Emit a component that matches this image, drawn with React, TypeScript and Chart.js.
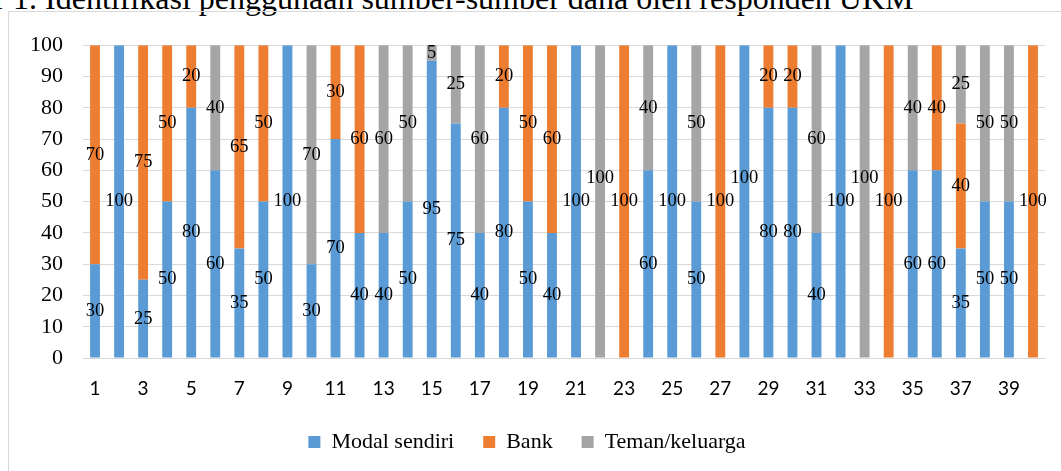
import { useEffect, useRef } from "react";
import { Chart, registerables } from "chart.js";

Chart.register(...registerables);

const categories = [
  "1", "2", "3", "4", "5", "6", "7", "8", "9", "10",
  "11", "12", "13", "14", "15", "16", "17", "18", "19", "20",
  "21", "22", "23", "24", "25", "26", "27", "28", "29", "30",
  "31", "32", "33", "34", "35", "36", "37", "38", "39", "40",
];

const modalSendiri = [
  30, 100, 25, 50, 80, 60, 35, 50, 100, 30,
  70, 40, 40, 50, 95, 75, 40, 80, 50, 40,
  100, 0, 0, 60, 100, 50, 0, 100, 80, 80,
  40, 100, 0, 0, 60, 60, 35, 50, 50, 0,
];

const bank = [
  70, 0, 75, 50, 20, 0, 65, 50, 0, 0,
  30, 60, 0, 0, 0, 0, 0, 20, 50, 60,
  0, 0, 100, 0, 0, 0, 100, 0, 20, 20,
  0, 0, 0, 100, 0, 40, 40, 0, 0, 100,
];

const temanKeluarga = [
  0, 0, 0, 0, 0, 40, 0, 0, 0, 70,
  0, 0, 60, 50, 5, 25, 60, 0, 0, 0,
  0, 100, 0, 40, 0, 50, 0, 0, 0, 0,
  60, 0, 100, 0, 40, 0, 25, 50, 50, 0,
];

const seriesNames = ["Modal sendiri", "Bank", "Teman/keluarga"];
const seriesColors = ["#5B9BD5", "#ED7D31", "#A5A5A5"];
const yTicks = [0, 10, 20, 30, 40, 50, 60, 70, 80, 90, 100];

const titleText =
  "Gambar 1. Identifikasi penggunaan sumber-sumber dana oleh responden UKM";

const SERIF = "'Liberation Serif', 'Times New Roman', Times, serif";

const segmentLabels = {
  id: "segmentLabels",
  afterDatasetsDraw(chart: any) {
    const ctx = chart.ctx;
    ctx.save();
    ctx.font = "18.5px " + SERIF;
    ctx.fillStyle = "#000";
    ctx.textAlign = "center";
    ctx.textBaseline = "middle";
    const h = 21;
    const placed: { x: number; y: number; w: number }[] = [];
    const n = chart.data.labels.length;
    for (let i = 0; i < n; i++) {
      chart.data.datasets.forEach((ds: any, di: number) => {
        const v = ds.data[i];
        if (!v) return;
        const el = chart.getDatasetMeta(di).data[i];
        const x = el.x;
        let y = (el.y + el.base) / 2;
        const text = String(v);
        const w = ctx.measureText(text).width;
        let moved = true;
        let guard = 0;
        while (moved && guard < 20) {
          moved = false;
          guard++;
          for (const p of placed) {
            if (Math.abs(p.x - x) < (p.w + w) / 2 && Math.abs(p.y - y) < h) {
              y = p.y - h - 2;
              moved = true;
            }
          }
        }
        placed.push({ x, y, w });
        ctx.fillText(text, x, y);
      });
    }
    ctx.restore();
  },
};

export default function App() {
  const ref = useRef<HTMLCanvasElement>(null);

  useEffect(() => {
    const seriesData = [modalSendiri, bank, temanKeluarga];
    const chart = new Chart(ref.current as HTMLCanvasElement, {
      type: "bar",
      data: {
        labels: categories,
        datasets: seriesNames.map((name, i) => ({
          label: name,
          data: seriesData[i],
          backgroundColor: seriesColors[i],
          borderWidth: 0,
          categoryPercentage: 1,
          barPercentage: 0.41,
        })),
      },
      options: {
        responsive: false,
        animation: false,
        layout: { padding: { top: 28, right: 39, bottom: 0, left: 0 } },
        plugins: {
          title: { display: false },
          tooltip: { enabled: false },
          legend: {
            position: "bottom",
            labels: {
              font: { family: SERIF, size: 22 },
              color: "#000",
              boxWidth: 12,
              boxHeight: 12,
              padding: 29,
            },
          },
        },
        scales: {
          x: {
            stacked: true,
            grid: { display: false, drawTicks: false },
            border: { display: true, color: "#d9d9d9", width: 1 },
            ticks: {
              autoSkip: false,
              maxRotation: 0,
              minRotation: 0,
              padding: 19,
              color: "#000",
              font: { family: "Lato, 'Open Sans', sans-serif", size: 19 },
              callback: (_v: any, idx: number) => (idx % 2 === 0 ? categories[idx] : ""),
            },
            afterFit: (scale: any) => {
              scale.height = 44;
            },
          },
          y: {
            stacked: true,
            min: yTicks[0],
            max: yTicks[yTicks.length - 1],
            grid: { color: "#d9d9d9", lineWidth: 1, drawTicks: false },
            border: { display: false },
            ticks: {
              stepSize: yTicks[1] - yTicks[0],
              padding: 20,
              color: "#000",
              font: { family: SERIF, size: 22 },
            },
            afterFit: (scale: any) => {
              scale.width = 74;
            },
          },
        },
      },
      plugins: [segmentLabels],
    });
    return () => chart.destroy();
  }, []);

  return (
    <div
      style={{
        position: "fixed",
        left: 0,
        top: 0,
        width: 1061,
        height: 471,
        overflow: "hidden",
        background: "#fff",
      }}
    >
      <div
        style={{
          position: "absolute",
          left: -98,
          top: -18,
          fontFamily: SERIF,
          fontSize: 32,
          lineHeight: "32px",
          whiteSpace: "nowrap",
          color: "#000",
        }}
      >
        {titleText}
      </div>
      <div
        style={{
          position: "absolute",
          left: 8,
          top: 11,
          width: 1200,
          height: 600,
          border: "1px solid #d9d9d9",
          boxSizing: "border-box",
        }}
      />
      <canvas
        ref={ref}
        width={1075}
        height={451}
        style={{ position: "absolute", left: 9, top: 12, width: 1075, height: 451 }}
      />
    </div>
  );
}
